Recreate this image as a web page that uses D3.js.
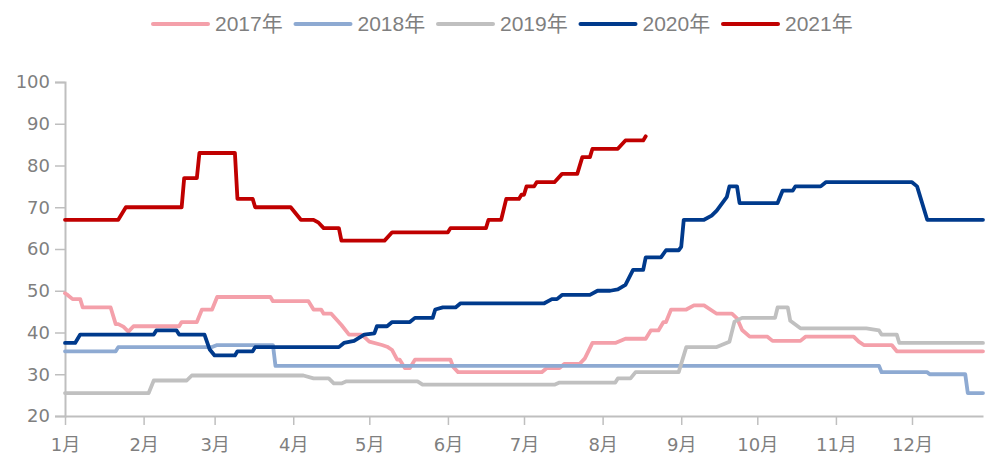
<!DOCTYPE html>
<html><head><meta charset="utf-8">
<script src="https://cdn.jsdelivr.net/npm/d3@7/dist/d3.min.js"></script>
<style>
html,body{margin:0;padding:0;background:#fff;}
svg{display:block;}
</style></head>
<body>
<svg id="chart" width="987" height="457"></svg>
<script>
// ---- data ----
const years = ["2017年", "2018年", "2019年", "2020年", "2021年"];
const colors = ["#f4a0aa", "#8eaad2", "#c0c0c0", "#003a8c", "#c00000"];
const monthLabels = ["1月","2月","3月","4月","5月","6月","7月","8月","9月","10月","11月","12月"];
const yTicks = [20, 30, 40, 50, 60, 70, 80, 90, 100];

const s2017 = [["01-01",49.4],["01-02",49],["01-04",48],["01-07",48],["01-08",46],["01-19",46],["01-21",42],["01-22",42],["01-24",41.4],["01-26",40.2],["01-28",41.5],["02-15",41.5],["02-16",42.5],["02-22",42.5],["02-24",45.5],["02-28",45.5],["03-02",48.5],["03-23",48.5],["03-24",47.5],["04-07",47.5],["04-09",45.5],["04-12",45.5],["04-13",44.5],["04-16",44.5],["04-20",41.8],["04-23",39.5],["04-28",39.5],["05-01",37.8],["05-06",37],["05-08",36.6],["05-10",35.8],["05-12",33.5],["05-13",33.5],["05-15",31.5],["05-17",31.5],["05-19",33.5],["06-02",33.5],["06-03",31.8],["06-05",30.5],["07-08",30.5],["07-10",31.5],["07-15",31.5],["07-17",32.5],["07-23",32.5],["07-25",33.8],["07-28",37.5],["08-06",37.5],["08-10",38.5],["08-18",38.5],["08-20",40.5],["08-23",40.5],["08-25",42.5],["08-26",42.5],["08-28",45.5],["09-03",45.5],["09-06",46.5],["09-10",46.5],["09-15",44.5],["09-21",44.5],["09-23",43.4],["09-25",40.6],["09-28",39],["10-05",39],["10-07",38],["10-18",38],["10-20",39],["11-08",39],["11-10",37.8],["11-12",37],["11-23",37],["11-25",35.5],["12-29",35.5]];

const s2018 = [["01-01",35.5],["01-21",35.5],["01-22",36.5],["02-28",36.5],["03-02",37],["03-24",37],["03-25",32],["11-18",32],["11-19",30.5],["12-07",30.5],["12-08",30],["12-22",30],["12-23",25.5],["12-29",25.5]];

const s2019 = [["01-01",25.5],["02-03",25.5],["02-05",28.5],["02-18",28.5],["02-20",29.7],["04-05",29.7],["04-09",29],["04-15",29],["04-17",27.8],["04-20",27.8],["04-22",28.3],["05-20",28.3],["05-22",27.5],["07-13",27.5],["07-15",28],["08-06",28],["08-07",29],["08-12",29],["08-14",30.5],["08-31",30.5],["09-03",36.5],["09-15",36.5],["09-20",37.8],["09-22",42.6],["09-25",43.5],["10-08",43.5],["10-09",46],["10-13",46],["10-14",42.8],["10-18",41],["11-13",41],["11-18",40.5],["11-19",39.5],["11-25",39.5],["11-26",37.5],["12-29",37.5]];

const s2020 = [["01-01",37.5],["01-05",37.5],["01-07",39.5],["02-05",39.5],["02-06",40.5],["02-14",40.5],["02-15",39.5],["02-25",39.5],["02-27",36],["03-01",34.5],["03-09",34.5],["03-10",35.5],["03-16",35.5],["03-17",36.5],["04-19",36.5],["04-21",37.5],["04-25",38],["04-29",39.5],["05-03",39.8],["05-04",41.5],["05-08",41.5],["05-10",42.5],["05-17",42.5],["05-19",43.5],["05-26",43.5],["05-27",45.5],["05-30",46],["06-04",46],["06-06",47],["07-09",47],["07-12",48],["07-14",48],["07-16",49],["07-27",49],["07-30",50],["08-04",50],["08-07",50.3],["08-10",51.4],["08-13",55],["08-17",55],["08-18",58],["08-24",58],["08-26",59.7],["08-31",59.7],["09-01",60.5],["09-02",67],["09-10",67],["09-13",68],["09-15",69.2],["09-19",72.5],["09-20",75],["09-23",75],["09-24",71],["10-09",71],["10-11",74],["10-15",74],["10-16",75],["10-26",75],["10-28",76],["12-01",76],["12-03",75],["12-07",67],["12-29",67]];

const s2021 = [["01-01",67],["01-22",67],["01-25",70],["02-16",70],["02-17",77],["02-22",77],["02-23",83],["03-09",83],["03-10",72],["03-16",72],["03-17",70],["03-31",70],["04-04",67],["04-09",67],["04-11",66.3],["04-13",65],["04-19",65],["04-20",62],["05-07",62],["05-10",64],["06-01",64],["06-02",65],["06-16",65],["06-17",67],["06-22",67],["06-24",72],["06-29",72],["06-30",73],["07-01",73],["07-02",75],["07-05",75],["07-06",76],["07-13",76],["07-16",78],["07-22",78],["07-24",82],["07-27",82],["07-28",84],["08-07",84],["08-10",86],["08-17",86],["08-18",87]];

const seriesList = [s2017, s2018, s2019, s2020, s2021];

// ---- chart ----
const svg = d3.select("#chart");
const baseYear = 2021;
const parse = s => { const [m, d] = s.split("-").map(Number); return new Date(baseYear, m - 1, d); };

const x = d3.scaleTime()
  .domain([new Date(baseYear, 0, 1), new Date(baseYear, 11, 29)])
  .range([65, 983]);
const y = d3.scaleLinear().domain([20, 100]).range([416, 82]);

const axisColor = "#bfbfbf";
const textColor = "#7f7f7f";

// y axis
const yAxis = svg.append("g").attr("transform", "translate(65,0)")
  .call(d3.axisLeft(y).tickValues(yTicks).tickSize(10).tickPadding(5));
yAxis.select(".domain").attr("stroke", axisColor).attr("stroke-width", 2);
yAxis.selectAll(".tick line").attr("stroke", axisColor).attr("stroke-width", 1.5);
yAxis.selectAll(".tick text")
  .attr("fill", textColor)
  .style("font-family", "'DejaVu Sans', sans-serif")
  .style("font-size", "18px");

// x axis
const monthStarts = d3.range(12).map(i => new Date(baseYear, i, 1));
const xAxis = svg.append("g").attr("transform", "translate(0,416)")
  .call(d3.axisBottom(x).tickValues(monthStarts)
    .tickFormat((d, i) => monthLabels[i]).tickSize(9).tickPadding(13).tickSizeOuter(0));
xAxis.select(".domain").attr("stroke", axisColor).attr("stroke-width", 2);
xAxis.selectAll(".tick line").attr("stroke", axisColor).attr("stroke-width", 1.5);
xAxis.selectAll(".tick text")
  .attr("fill", textColor)
  .style("font-family", "'DejaVu Sans', 'Noto Sans CJK SC', sans-serif")
  .style("font-size", "18px");

// lines
const line = d3.line()
  .x(d => x(parse(d[0])))
  .y(d => y(d[1]));

seriesList.forEach((s, i) => {
  svg.append("path")
    .datum(s)
    .attr("fill", "none")
    .attr("stroke", colors[i])
    .attr("stroke-width", 3.8)
    .attr("stroke-linejoin", "round")
    .attr("stroke-linecap", "round")
    .attr("d", line);
});

// legend
const legend = svg.append("g");
const legendX0 = 153, legendStep = 142.5, legendY = 24;
years.forEach((name, i) => {
  const g = legend.append("g").attr("transform", `translate(${legendX0 + i * legendStep},${legendY})`);
  g.append("line").attr("x1", 0).attr("x2", 55).attr("y1", 0).attr("y2", 0)
    .attr("stroke", colors[i]).attr("stroke-width", 4).attr("stroke-linecap", "round");
  g.append("text").attr("x", 62).attr("y", 0).attr("dy", "0.35em")
    .attr("fill", textColor)
    .style("font-family", "'Liberation Sans', 'Noto Sans CJK SC', sans-serif")
    .style("font-size", "21px")
    .text(name);
});
</script>
</body></html>
